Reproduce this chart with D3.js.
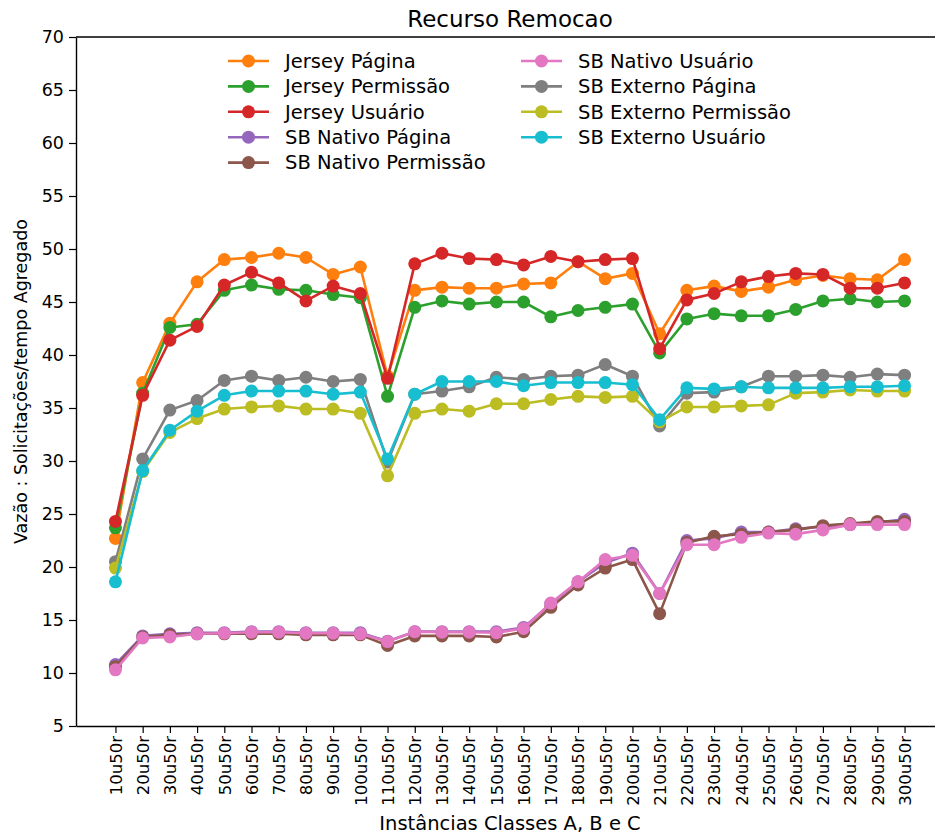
<!DOCTYPE html>
<html>
<head>
<meta charset="utf-8">
<script src="https://cdn.jsdelivr.net/npm/d3@7"></script>
<style>
  html, body { margin: 0; padding: 0; background: #ffffff; }
  svg { display: block; }
  text { font-family: "DejaVu Sans", sans-serif; fill: #000; }
</style>
</head>
<body>
<svg id="chart" width="935" height="835"></svg>
<script>
// Instance configurations along the x axis
const categories = ["10u50r","20u50r","30u50r","40u50r","50u50r","60u50r","70u50r","80u50r","90u50r","100u50r",
  "110u50r","120u50r","130u50r","140u50r","150u50r","160u50r","170u50r","180u50r","190u50r","200u50r",
  "210u50r","220u50r","230u50r","240u50r","250u50r","260u50r","270u50r","280u50r","290u50r","300u50r"];

const yTicks = [5, 10, 15, 20, 25, 30, 35, 40, 45, 50, 55, 60, 65, 70];

// Throughput per series
const jerseyPagina = [22.7, 37.4, 43.0, 46.9, 49.0, 49.2, 49.6, 49.2, 47.6, 48.3, 38.0, 46.1, 46.4, 46.3, 46.3, 46.7, 46.8, 48.8, 47.2, 47.7, 42.0, 46.1, 46.5, 46.0, 46.4, 47.1, 47.5, 47.2, 47.1, 49.0];
const jerseyPermissao = [23.7, 36.4, 42.6, 42.9, 46.1, 46.6, 46.2, 46.1, 45.7, 45.4, 36.1, 44.5, 45.1, 44.8, 45.0, 45.0, 43.6, 44.2, 44.5, 44.8, 40.2, 43.4, 43.9, 43.7, 43.7, 44.3, 45.1, 45.3, 45.0, 45.1];
const jerseyUsuario = [24.3, 36.2, 41.4, 42.7, 46.6, 47.8, 46.8, 45.1, 46.5, 45.8, 37.8, 48.6, 49.6, 49.1, 49.0, 48.5, 49.3, 48.8, 49.0, 49.1, 40.6, 45.2, 45.8, 46.9, 47.4, 47.7, 47.6, 46.3, 46.3, 46.8];
const sbNativoPagina = [10.8, 13.5, 13.7, 13.8, 13.8, 13.9, 13.9, 13.8, 13.8, 13.8, 13.0, 13.9, 13.9, 13.9, 13.9, 14.3, 16.5, 18.6, 20.4, 21.3, 17.5, 22.5, 22.7, 23.3, 23.3, 23.6, 23.8, 24.0, 24.2, 24.5];
const sbNativoPermissao = [10.6, 13.4, 13.6, 13.7, 13.7, 13.7, 13.7, 13.6, 13.6, 13.6, 12.6, 13.5, 13.5, 13.5, 13.4, 13.9, 16.2, 18.3, 19.9, 20.7, 15.6, 22.3, 22.9, 23.1, 23.3, 23.5, 23.9, 24.1, 24.3, 24.3];
const sbNativoUsuario = [10.3, 13.3, 13.4, 13.7, 13.75, 13.85, 13.85, 13.75, 13.75, 13.7, 12.96, 13.9, 13.85, 13.85, 13.8, 14.2, 16.6, 18.6, 20.7, 21.1, 17.5, 22.1, 22.1, 22.8, 23.2, 23.1, 23.5, 24.0, 24.0, 24.0];
const sbExternoPagina = [20.5, 30.2, 34.8, 35.7, 37.6, 38.0, 37.6, 37.9, 37.5, 37.7, 29.9, 36.3, 36.6, 37.0, 37.9, 37.7, 38.0, 38.1, 39.1, 38.0, 33.3, 36.4, 36.5, 37.0, 38.0, 38.0, 38.1, 37.9, 38.2, 38.1];
const sbExternoPermissao = [19.9, 29.0, 32.7, 34.0, 34.9, 35.1, 35.2, 34.9, 34.9, 34.5, 28.6, 34.5, 34.9, 34.7, 35.4, 35.4, 35.8, 36.1, 36.0, 36.1, 33.7, 35.1, 35.1, 35.2, 35.3, 36.4, 36.5, 36.7, 36.6, 36.6];
const sbExternoUsuario = [18.6, 29.1, 32.9, 34.7, 36.2, 36.6, 36.6, 36.6, 36.3, 36.5, 30.2, 36.3, 37.5, 37.5, 37.5, 37.1, 37.4, 37.4, 37.4, 37.2, 33.9, 36.9, 36.8, 37.0, 36.9, 36.9, 36.9, 37.0, 37.0, 37.1];

const seriesNames = ["Jersey Página", "Jersey Permissão", "Jersey Usuário",
  "SB Nativo Página", "SB Nativo Permissão", "SB Nativo Usuário",
  "SB Externo Página", "SB Externo Permissão", "SB Externo Usuário"];
const seriesValues = [jerseyPagina, jerseyPermissao, jerseyUsuario,
  sbNativoPagina, sbNativoPermissao, sbNativoUsuario,
  sbExternoPagina, sbExternoPermissao, sbExternoUsuario];
const seriesColors = ["#ff7f0e", "#2ca02c", "#d62728", "#9467bd", "#8c564b", "#e377c2", "#7f7f7f", "#bcbd22", "#17becf"];

const series = seriesNames.map((name, i) => ({ name, values: seriesValues[i], color: seriesColors[i] }));

// Plot frame
const frame = { left: 76, right: 944, top: 37, bottom: 726 };
const svg = d3.select("#chart");

const x = d3.scaleLinear().domain([-1.45, categories.length - 1 + 1.45]).range([frame.left, frame.right]);
const y = d3.scaleLinear().domain([5, 70]).range([frame.bottom, frame.top]);

// Axes
const yAxis = svg.append("g")
  .attr("transform", `translate(${frame.left},0)`)
  .call(d3.axisLeft(y).tickValues(yTicks).tickSize(7).tickSizeOuter(0).tickPadding(5));
yAxis.selectAll("text").style("font-size", "17.5px");

const xAxis = svg.append("g")
  .attr("transform", `translate(0,${frame.bottom})`)
  .call(d3.axisBottom(x).tickValues(d3.range(categories.length)).tickFormat(i => categories[i]).tickSize(7).tickSizeOuter(0));
xAxis.selectAll("text")
  .attr("transform", "rotate(-90)")
  .attr("x", -10).attr("y", 0).attr("dy", "0.35em")
  .style("text-anchor", "end")
  .style("font-size", "16.5px");

svg.selectAll(".domain").attr("stroke", "#000").attr("stroke-width", 1.4);
svg.selectAll(".tick line").attr("stroke", "#000").attr("stroke-width", 1.2);

// Top spine
svg.append("line")
  .attr("x1", frame.left).attr("x2", frame.right).attr("y1", frame.top).attr("y2", frame.top)
  .attr("stroke", "#000").attr("stroke-width", 1.4);

// Series lines and markers
const line = d3.line().x((d, i) => x(i)).y(d => y(d));
const plot = svg.append("g");
series.forEach(s => {
  const g = plot.append("g");
  g.append("path")
    .attr("d", line(s.values))
    .attr("fill", "none")
    .attr("stroke", s.color)
    .attr("stroke-width", 2.6)
    .attr("stroke-linejoin", "round");
  g.selectAll("circle").data(s.values).join("circle")
    .attr("cx", (d, i) => x(i))
    .attr("cy", d => y(d))
    .attr("r", 6.5)
    .attr("fill", s.color);
});

// Title and axis labels
svg.append("text")
  .attr("x", (frame.left + frame.right) / 2).attr("y", 27)
  .attr("text-anchor", "middle")
  .style("font-size", "23px")
  .text("Recurso Remocao");

svg.append("text")
  .attr("x", (frame.left + frame.right) / 2).attr("y", 830)
  .attr("text-anchor", "middle")
  .style("font-size", "19.5px")
  .text("Instâncias Classes A, B e C");

svg.append("text")
  .attr("transform", `translate(27,${(frame.top + frame.bottom) / 2}) rotate(-90)`)
  .attr("text-anchor", "middle")
  .style("font-size", "17.5px")
  .text("Vazão : Solicitações/tempo Agregado");

// Legend, filled column by column
const legend = svg.append("g");
const rowsPerCol = 5;
const colX = [228, 521];
const rowY0 = 61, rowStep = 25.4;
series.forEach((s, i) => {
  const col = Math.floor(i / rowsPerCol);
  const row = i % rowsPerCol;
  const gx = colX[col], gy = rowY0 + row * rowStep;
  const item = legend.append("g").attr("transform", `translate(${gx},${gy})`);
  item.append("line").attr("x1", 0).attr("x2", 41).attr("y1", 0).attr("y2", 0)
    .attr("stroke", s.color).attr("stroke-width", 2.6);
  item.append("circle").attr("cx", 20.5).attr("cy", 0).attr("r", 6.5).attr("fill", s.color);
  item.append("text").attr("x", 57).attr("y", 0).attr("dy", "0.35em")
    .style("font-size", "19.5px")
    .text(s.name);
});
</script>
</body>
</html>
